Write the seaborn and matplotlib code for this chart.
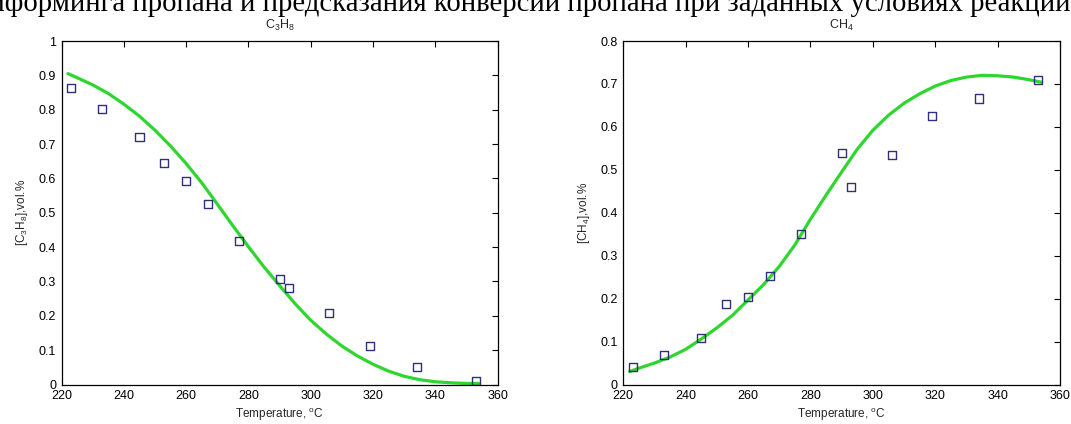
import matplotlib
matplotlib.use("Agg")
import matplotlib.pyplot as plt
import seaborn as sns
import pandas as pd

# ---------------- data ----------------
temps = [223, 233, 245, 253, 260, 267, 277, 290, 293, 306, 319, 334, 353]
c3h8_exp = [0.864, 0.802, 0.720, 0.645, 0.593, 0.526, 0.418, 0.306, 0.282, 0.207, 0.113, 0.051, 0.011]
ch4_exp = [0.041, 0.069, 0.109, 0.187, 0.203, 0.252, 0.351, 0.540, 0.461, 0.535, 0.626, 0.666, 0.710]

model_t = [222, 225, 230, 235, 240, 245, 250, 255, 260, 265, 270, 275, 280, 285,
           290, 295, 300, 305, 310, 315, 320, 325, 330, 335, 340, 345, 350, 354]
c3h8_model = [0.905, 0.893, 0.872, 0.847, 0.816, 0.781, 0.740, 0.694, 0.643, 0.587,
              0.525, 0.462, 0.401, 0.342, 0.288, 0.235, 0.187, 0.147, 0.112, 0.083,
              0.059, 0.039, 0.024, 0.014, 0.008, 0.005, 0.003, 0.003]
ch4_model = [0.030, 0.038, 0.050, 0.064, 0.082, 0.106, 0.132, 0.161, 0.197, 0.233,
             0.275, 0.325, 0.385, 0.441, 0.495, 0.548, 0.592, 0.627, 0.655, 0.677,
             0.695, 0.708, 0.716, 0.720, 0.719, 0.716, 0.710, 0.704]

x_ticks = [220, 240, 260, 280, 300, 320, 340, 360]
x_ticklabels = ["220", "240", "260", "280", "300", "320", "340", "360"]
y1_ticks = [0, 0.1, 0.2, 0.3, 0.4, 0.5, 0.6, 0.7, 0.8, 0.9, 1.0]
y1_ticklabels = ["0", "0.1", "0.2", "0.3", "0.4", "0.5", "0.6", "0.7", "0.8", "0.9", "1"]
y2_ticks = [0, 0.1, 0.2, 0.3, 0.4, 0.5, 0.6, 0.7, 0.8]
y2_ticklabels = ["0", "0.1", "0.2", "0.3", "0.4", "0.5", "0.6", "0.7", "0.8"]

titles = [r"C$_3$H$_8$", r"CH$_4$"]
ylabels = [r"[C$_3$H$_8$],vol.%", r"[CH$_4$],vol.%"]
xlabel = r"Temperature, $^{\mathrm{o}}$C"
header = "риформинга пропана и предсказания конверсии пропана при заданных условиях реакции"

# ---------------- style ----------------
sns.set_theme(style="white")
plt.rcParams["font.family"] = ["Liberation Sans", "DejaVu Sans"]
plt.rcParams["mathtext.fontset"] = "custom"
plt.rcParams["mathtext.rm"] = "Liberation Sans"
plt.rcParams["mathtext.it"] = "Liberation Sans:italic"
plt.rcParams["mathtext.bf"] = "Liberation Sans:bold"

W, H = 1071, 424
fig = plt.figure(figsize=(W / 100, H / 100), dpi=100)
fig.patch.set_facecolor("white")

def px_rect(x0, x1, ytop, ybot):
    return [x0 / W, (H - ybot) / H, (x1 - x0) / W, (ybot - ytop) / H]

ax1 = fig.add_axes(px_rect(61.7, 497.5, 41, 384.5))
ax2 = fig.add_axes(px_rect(623.3, 1060, 41, 384.5))

green = "#2fd62f"
navy = "#30307a"

panels = [
    (ax1, c3h8_model, c3h8_exp, y1_ticks, y1_ticklabels, (0, 1.0)),
    (ax2, ch4_model, ch4_exp, y2_ticks, y2_ticklabels, (0, 0.8)),
]

for i, (ax, model, exp, yt, ytl, ylim) in enumerate(panels):
    dm = pd.DataFrame({"T": model_t, "v": model})
    de = pd.DataFrame({"T": temps, "v": exp})
    sns.lineplot(data=dm, x="T", y="v", ax=ax, color=green, linewidth=2.3, zorder=2)
    sns.scatterplot(data=de, x="T", y="v", ax=ax, marker="s", s=34,
                    facecolors="none", edgecolor=navy, linewidth=1.0, zorder=3)
    ax.set_xlim(220, 360)
    ax.set_ylim(*ylim)
    ax.set_xticks(x_ticks)
    ax.set_xticklabels(x_ticklabels)
    ax.set_yticks(yt)
    ax.set_yticklabels(ytl)
    ax.tick_params(direction="in", top=True, right=True, length=4, width=0.8,
                   labelsize=9, pad=4, colors="black")
    for sp in ax.spines.values():
        sp.set_visible(True)
        sp.set_color("black")
        sp.set_linewidth(0.9)
    ax.set_title(titles[i], fontsize=9, pad=9)
    ax.set_xlabel(xlabel, fontsize=8.5, labelpad=3)
    ax.set_ylabel(ylabels[i], fontsize=8.5, labelpad=6)
    ax.set_facecolor("white")
    ax.grid(False)

# header text (partly cut off at the top in the original)
renderer = fig.canvas.get_renderer()
probe = fig.text(0, 0, "пропана и предсказания конверсии пропана при заданных условиях ",
                 fontsize=20, family="Liberation Serif")
w20 = probe.get_window_extent(renderer).width
probe.remove()
fs = 20 * (973 - 132) / w20
probe = fig.text(0, 0, "риформинга ", fontsize=fs, family="Liberation Serif")
wpre = probe.get_window_extent(renderer).width
probe.remove()
x0 = 132 - wpre
fig.text(x0 / W, 1 - 11 / H, header, fontsize=fs, family="Liberation Serif",
         va="baseline", ha="left", color="black")

fig.savefig("out.png", dpi=100, facecolor="white")
